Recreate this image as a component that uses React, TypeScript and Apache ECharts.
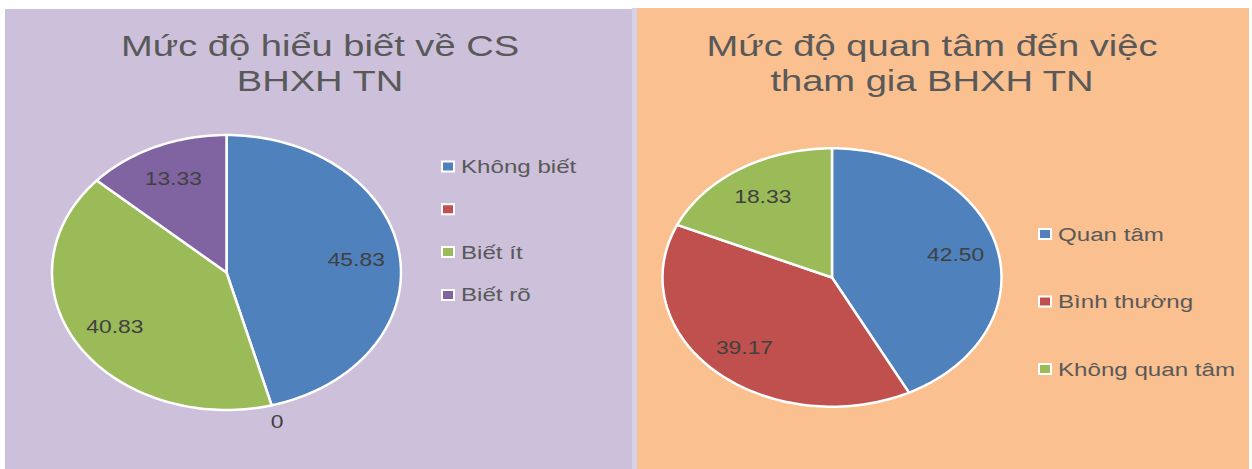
import React, { useEffect, useRef } from "react";
import * as echarts from "echarts";

const W = 1252;
const H = 469;

// ---- data ----
const leftTitleLines = ["Mức độ hiểu biết về CS", "BHXH TN"];
const leftCategories = ["Không biết", "", "Biết ít", "Biết rõ"];
const leftValues = [45.83, 0, 40.83, 13.33];
const leftColors = ["#4F81BD", "#C0504D", "#9BBB59", "#8064A2"];

const rightTitleLines = ["Mức độ quan tâm đến việc", "tham gia BHXH TN"];
const rightCategories = ["Quan tâm", "Bình thường", "Không quan tâm"];
const rightValues = [42.5, 39.17, 18.33];
const rightColors = ["#4F81BD", "#C0504D", "#9BBB59"];

const FONT = "'Liberation Sans', Arial, sans-serif";
const SX = 1.27;
const TEXT_COLOR = "#404040";

type Geom = { cx: number; cy: number; rx: number; ry: number };

function fmt(v: number) {
  return v === 0 ? "0" : v.toFixed(2);
}

function makePie(values: number[], names: string[], colors: string[], g: Geom) {
  const total = values.reduce((a, b) => a + b, 0);
  const pt = (t: number, f: number) => [g.cx + f * g.rx * Math.sin(t), g.cy - f * g.ry * Math.cos(t)];
  return {
    type: "custom",
    coordinateSystem: "none",
    silent: true,
    data: values.map((v, i) => ({ value: [v, i], name: names[i] })),
    renderItem: (params: any) => {
      const i = params.dataIndex;
      let before = 0;
      for (let k = 0; k < i; k++) before += values[k];
      const start = (before / total) * Math.PI * 2;
      const end = ((before + values[i]) / total) * Math.PI * 2;
      const children: any[] = [];
      if (values[i] > 0) {
        const points: number[][] = [[g.cx, g.cy]];
        const n = Math.max(2, Math.ceil((end - start) / (Math.PI / 120)));
        for (let k = 0; k <= n; k++) points.push(pt(start + ((end - start) * k) / n, 1));
        children.push({
          type: "polygon",
          shape: { points },
          style: { fill: colors[i], stroke: "#FFFFFF", lineWidth: 2.5, lineJoin: "round" },
        });
      }
      const mid = (start + end) / 2;
      const [lx, ly] = pt(mid, values[i] > 0 ? 0.75 : 1.12);
      children.push({
        type: "text",
        x: lx,
        y: ly,
        scaleX: SX,
        z2: 10,
        style: {
          text: fmt(values[i]),
          fill: TEXT_COLOR,
          fontSize: 18,
          fontFamily: FONT,
          align: "center",
          verticalAlign: "middle",
        },
      });
      return { type: "group", children };
    },
  };
}

function titleGraphics(lines: string[], cx: number, ys: number[]) {
  return lines.map((t, i) => ({
    type: "text",
    x: cx,
    y: ys[i],
    scaleX: SX,
    z: 5,
    style: {
      text: t,
      fill: "#595959",
      fontSize: 30,
      fontFamily: FONT,
      align: "center",
      verticalAlign: "middle",
    },
  }));
}

function legendGraphics(names: string[], colors: string[], x: number, y0: number, step: number) {
  const out: any[] = [];
  names.forEach((name, i) => {
    const y = y0 + i * step;
    out.push({
      type: "rect",
      shape: { x: x, y: y - 5, width: 12, height: 10 },
      style: { fill: colors[i], stroke: "#FFFFFF", lineWidth: 2 },
      z: 5,
    });
    out.push({
      type: "text",
      x: x + 19,
      y: y,
      scaleX: SX,
      z: 5,
      style: {
        text: name,
        fill: "#595959",
        fontSize: 19,
        fontFamily: FONT,
        align: "left",
        verticalAlign: "middle",
      },
    });
  });
  return out;
}

export default function App() {
  const ref = useRef<HTMLDivElement>(null);
  useEffect(() => {
    document.body.style.margin = "0";
    if (!ref.current) return;
    const chart = echarts.init(ref.current, undefined, { renderer: "svg" });
    chart.setOption({
      animation: false,
      backgroundColor: "#FFFFFF",
      graphic: [
        { type: "rect", shape: { x: 632, y: 8, width: 5, height: H - 8 }, style: { fill: "#D6D3E4" }, z: 0 },
        { type: "rect", shape: { x: 5, y: 9, width: 627, height: H - 9 }, style: { fill: "#CCC0DA" }, z: 1 },
        { type: "rect", shape: { x: 637, y: 8, width: 612, height: H - 8 }, style: { fill: "#FAC090" }, z: 1 },
        ...titleGraphics(leftTitleLines, 320, [46, 81]),
        ...titleGraphics(rightTitleLines, 932, [46, 81]),
        ...legendGraphics(leftCategories, leftColors, 442, 166.5, 42.8),
        ...legendGraphics(rightCategories, rightColors, 1039, 234, 67.5),
      ],
      series: [
        makePie(leftValues, leftCategories, leftColors, { cx: 226.5, cy: 272.5, rx: 174.5, ry: 137.5 }),
        makePie(rightValues, rightCategories, rightColors, { cx: 832, cy: 277.5, rx: 169.5, ry: 129.2 }),
      ],
    });
    return () => chart.dispose();
  }, []);
  return <div ref={ref} style={{ width: W, height: H }} />;
}
